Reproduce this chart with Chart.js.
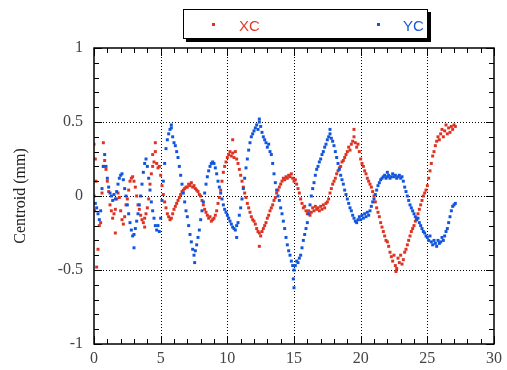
<!DOCTYPE html>
<html>
<head>
<meta charset="utf-8">
<title>Centroid</title>
<script src="https://cdn.jsdelivr.net/npm/chart.js@4.4.0/dist/chart.umd.min.js"></script>
<style>
  body { margin: 0; background: #fff; }
  #wrap { position: relative; width: 507px; height: 370px; }
  #legend {
    position: absolute; left: 183px; top: 9px; width: 243px; height: 28px;
    border: 1px solid #000; box-shadow: 3px 3px 0 #000; background: #fff;
    font: 15px "Liberation Sans", Arial, sans-serif; line-height: 15px;
  }
  #legend .dot { position: absolute; top: 13px; width: 3px; height: 3px; }
  #legend .lbl { position: absolute; top: 8px; }
</style>
</head>
<body>
<div id="wrap">
  <canvas id="chart" width="507" height="370"></canvas>
  <div id="legend">
    <span class="dot" style="left:28px;background:#dd3322"></span>
    <span class="lbl" style="left:55px;color:#e03a2a">XC</span>
    <span class="dot" style="left:193px;background:#1155dd"></span>
    <span class="lbl" style="left:219px;color:#1a55dd">YC</span>
  </div>
</div>
<script>
// samples every 0.1 s starting at t = 0
const dt = 0.1;

const xcValues = [
  0.35, 0.25, -0.48, -0.36, -0.2, -0.18, 0.02, 0.2, 0.24, 0.18,
  0.1, 0.03, -0.06, -0.1, -0.15, -0.12, -0.09, -0.02, 0.02, -0.01,
  -0.1, -0.16, -0.19, -0.14, -0.06, -0.02, 0.04, 0.1, 0.12, 0.13,
  0.1, 0.06, 0.0, -0.06, -0.09, -0.13, -0.16, -0.18, -0.15, -0.12,
  -0.08, -0.02, 0.08, 0.15, 0.2, 0.23, 0.3, 0.22, 0.19, 0.2,
  0.14, 0.07, 0.01, -0.04, -0.08, -0.12, -0.14, -0.16, -0.15, -0.12,
  -0.09, -0.07, -0.05, -0.03, -0.01, 0.01, 0.03, 0.04, 0.05, 0.06,
  0.06, 0.08, 0.07, 0.09, 0.06, 0.07, 0.05, 0.04, 0.03, 0.01,
  0.0, -0.03, -0.06, -0.09, -0.11, -0.13, -0.15, -0.14, -0.17, -0.16,
  -0.15, -0.13, -0.1, -0.05, -0.01, 0.04, 0.1, 0.16, 0.2, 0.23,
  0.26, 0.28, 0.3, 0.27, 0.29, 0.26, 0.3, 0.25, 0.22, 0.18,
  0.14, 0.1, 0.06, 0.02, -0.01, -0.05, -0.08, -0.11, -0.14, -0.16,
  -0.17, -0.19, -0.22, -0.24, -0.25, -0.27, -0.24, -0.22, -0.2, -0.18,
  -0.15, -0.13, -0.1, -0.08, -0.06, -0.03, -0.01, 0.02, 0.04, 0.06,
  0.08, 0.1, 0.12, 0.11, 0.13, 0.12, 0.14, 0.13, 0.15, 0.12,
  0.1, 0.11, 0.08, 0.05, 0.02, -0.02, -0.05, -0.08, -0.07, -0.1,
  -0.12, -0.1, -0.13, -0.11, -0.08, -0.1, -0.07, -0.09, -0.08, -0.1,
  -0.07, -0.09, -0.06, -0.08, -0.05, -0.04, -0.02, 0.02, 0.05, 0.08,
  0.1, 0.12, 0.15, 0.17, 0.19, 0.2, 0.23, 0.24, 0.26, 0.28,
  0.3, 0.33, 0.31, 0.35, 0.37, 0.4, 0.36, 0.33, 0.35, 0.3,
  0.25, 0.22, 0.2, 0.17, 0.15, 0.12, 0.1, 0.08, 0.06, 0.03,
  0.0, -0.04, -0.08, -0.11, -0.14, -0.18, -0.21, -0.24, -0.27, -0.3,
  -0.31, -0.34, -0.38, -0.41, -0.44, -0.4, -0.47, -0.49, -0.42, -0.45,
  -0.4, -0.46, -0.43, -0.38, -0.36, -0.33, -0.3, -0.27, -0.24, -0.22,
  -0.2, -0.17, -0.15, -0.12, -0.09, -0.06, -0.03, 0.0, 0.02, 0.04,
  0.07, 0.12, 0.17, 0.22, 0.27, 0.3, 0.34, 0.37, 0.4, 0.38,
  0.42, 0.45, 0.4, 0.44, 0.48, 0.42, 0.46, 0.43, 0.47, 0.45,
  0.48, 0.47
];

const ycValues = [
  0.0, -0.05, -0.08, -0.12, -0.16, -0.1, 0.05, 0.2, 0.28, 0.2,
  0.12, 0.06, 0.02, 0.0, -0.03, 0.01, -0.02, 0.03, 0.08, 0.12,
  0.14, 0.15, 0.11, 0.05, 0.0, -0.06, -0.12, -0.18, -0.23, -0.27,
  -0.26, -0.22, -0.17, -0.12, -0.06, 0.0, 0.08, 0.16, 0.22, 0.25,
  0.2, 0.12, 0.04, -0.04, -0.1, -0.15, -0.2, -0.23, -0.2, -0.24,
  -0.15, -0.03, 0.1, 0.22, 0.32, 0.38, 0.42, 0.45, 0.46, 0.4,
  0.36, 0.34, 0.3, 0.26, 0.2, 0.14, 0.08, 0.02, -0.04, -0.1,
  -0.14, -0.2, -0.26, -0.31, -0.36, -0.4, -0.37, -0.33, -0.28, -0.23,
  -0.16, -0.1, -0.04, 0.02, 0.08, 0.13, 0.17, 0.2, 0.22, 0.23,
  0.22, 0.19, 0.15, 0.1, 0.06, 0.02, -0.02, -0.06, -0.09, -0.11,
  -0.13, -0.15, -0.17, -0.19, -0.21, -0.22, -0.23, -0.2, -0.18, -0.13,
  -0.08, -0.02, 0.05, 0.12, 0.19, 0.25, 0.31, 0.36, 0.4, 0.42,
  0.44, 0.46, 0.48, 0.45, 0.5, 0.47, 0.43, 0.4, 0.38, 0.36,
  0.33, 0.35, 0.3, 0.28, 0.22, 0.15, 0.09, 0.04, 0.0, -0.03,
  -0.08, -0.12, -0.17, -0.22, -0.28, -0.33, -0.37, -0.4, -0.44, -0.47,
  -0.5, -0.47, -0.44, -0.45, -0.42, -0.4, -0.35, -0.3, -0.26, -0.22,
  -0.18, -0.12, -0.06, 0.0, 0.05, 0.09, 0.14, 0.18, 0.2, 0.23,
  0.25, 0.28, 0.3, 0.33, 0.35, 0.38, 0.4, 0.42, 0.39, 0.37,
  0.34, 0.3, 0.26, 0.22, 0.18, 0.14, 0.11, 0.08, 0.04, 0.01,
  -0.02, -0.05, -0.08, -0.1, -0.13, -0.15, -0.17, -0.18, -0.16, -0.14,
  -0.16, -0.13, -0.15, -0.12, -0.14, -0.11, -0.13, -0.1, -0.07, -0.04,
  -0.02, 0.01, 0.04, 0.07, 0.09, 0.11, 0.12, 0.13, 0.14, 0.12,
  0.13, 0.14, 0.12, 0.13, 0.15, 0.13, 0.14, 0.12, 0.13, 0.14,
  0.12, 0.13, 0.1, 0.06, 0.03, 0.0, -0.03, -0.06, -0.08, -0.1,
  -0.12, -0.14, -0.16, -0.15, -0.18, -0.2, -0.22, -0.24, -0.25, -0.27,
  -0.28, -0.3, -0.27, -0.31, -0.33, -0.3, -0.32, -0.34, -0.3, -0.32,
  -0.31, -0.28, -0.3, -0.27, -0.24, -0.22, -0.18, -0.14, -0.1, -0.07,
  -0.06, -0.05
];

// stray points off the main trace
const xcStrayT = [0.05, 0.15, 0.7, 1.6, 3.8, 4.4, 4.6, 10.4, 12.4, 19.5, 22.65];
const xcStrayV = [-0.1, 0.1, 0.36, -0.25, -0.21, 0.28, 0.36, 0.38, -0.34, 0.45, -0.51];
const ycStrayT = [3.0, 5.8, 7.55, 10.7, 12.4, 14.95, 15.0, 17.7, 22.0];
const ycStrayV = [-0.35, 0.48, -0.45, -0.28, 0.52, -0.56, -0.62, 0.45, 0.16];

const xTicks = [0, 5, 10, 15, 20, 25, 30];
const yTicks = [-1, -0.5, 0, 0.5, 1];

const red = "#dd3322";
const blue = "#1155dd";

function points(values, strayT, strayV) {
  const pts = values.map((v, i) => ({ x: +(i * dt).toFixed(2), y: v }));
  strayT.forEach((t, i) => pts.push({ x: t, y: strayV[i] }));
  return pts;
}

// dotted grid at the major ticks, frame and inward ticks on all sides
const frame = {
  id: "frame",
  beforeDatasetsDraw(chart) {
    const { ctx, chartArea: a, scales: { x, y } } = chart;
    ctx.save();
    ctx.strokeStyle = "#000";
    ctx.lineWidth = 1;
    ctx.setLineDash([1, 2]);
    ctx.beginPath();
    xTicks.slice(1, -1).forEach(t => {
      const px = Math.round(x.getPixelForValue(t)) + 0.5;
      ctx.moveTo(px, a.top); ctx.lineTo(px, a.bottom);
    });
    yTicks.slice(1, -1).forEach(t => {
      const py = Math.round(y.getPixelForValue(t)) + 0.5;
      ctx.moveTo(a.left, py); ctx.lineTo(a.right, py);
    });
    ctx.stroke();
    ctx.restore();
  },
  afterDraw(chart) {
    const { ctx, chartArea: a, scales: { x, y } } = chart;
    ctx.save();
    ctx.strokeStyle = "#000";
    ctx.lineWidth = 1.5;
    ctx.strokeRect(a.left, a.top, a.right - a.left, a.bottom - a.top);
    ctx.lineWidth = 1;
    ctx.beginPath();
    for (let t = 0; t <= 30; t++) {
      const px = Math.round(x.getPixelForValue(t)) + 0.5;
      const len = t % 5 === 0 ? 8 : 5;
      ctx.moveTo(px, a.bottom); ctx.lineTo(px, a.bottom - len);
      ctx.moveTo(px, a.top); ctx.lineTo(px, a.top + len);
    }
    for (let k = -10; k <= 10; k++) {
      const py = Math.round(y.getPixelForValue(k / 10)) + 0.5;
      const len = k % 5 === 0 ? 8 : 5;
      ctx.moveTo(a.left, py); ctx.lineTo(a.left + len, py);
      ctx.moveTo(a.right, py); ctx.lineTo(a.right - len, py);
    }
    ctx.stroke();
    ctx.restore();
  }
};

const tickFont = { family: "'Liberation Serif', 'Times New Roman', serif", size: 16 };

new Chart(document.getElementById("chart"), {
  type: "scatter",
  data: {
    datasets: [
      {
        label: "XC",
        data: points(xcValues, xcStrayT, xcStrayV),
        backgroundColor: red,
        borderWidth: 0,
        pointStyle: "rect",
        pointRadius: 2.1,
        order: 1
      },
      {
        label: "YC",
        data: points(ycValues, ycStrayT, ycStrayV),
        backgroundColor: blue,
        borderWidth: 0,
        pointStyle: "rect",
        pointRadius: 2.1,
        order: 0
      }
    ]
  },
  options: {
    responsive: false,
    animation: false,
    layout: { padding: { top: 48, right: 10, left: 0, bottom: 0 } },
    plugins: {
      legend: { display: false },
      tooltip: { enabled: false }
    },
    scales: {
      x: {
        type: "linear",
        min: 0,
        max: 30,
        afterBuildTicks: s => { s.ticks = xTicks.map(v => ({ value: v })); },
        afterFit: s => { s.height = 26; },
        ticks: { font: tickFont, color: "#444", padding: 5, maxRotation: 0, callback: v => String(v) },
        grid: { display: false, drawTicks: false },
        border: { display: false }
      },
      y: {
        min: -1,
        max: 1,
        afterBuildTicks: s => { s.ticks = yTicks.map(v => ({ value: v })); },
        afterFit: s => { s.width = 94; },
        ticks: { font: tickFont, color: "#444", padding: 11, callback: v => String(v) },
        grid: { display: false, drawTicks: false },
        border: { display: false },
        title: {
          display: true,
          text: "Centroid (mm)",
          color: "#222",
          font: tickFont,
          padding: { top: 11, bottom: 0 }
        }
      }
    }
  },
  plugins: [frame]
});
</script>
</body>
</html>
